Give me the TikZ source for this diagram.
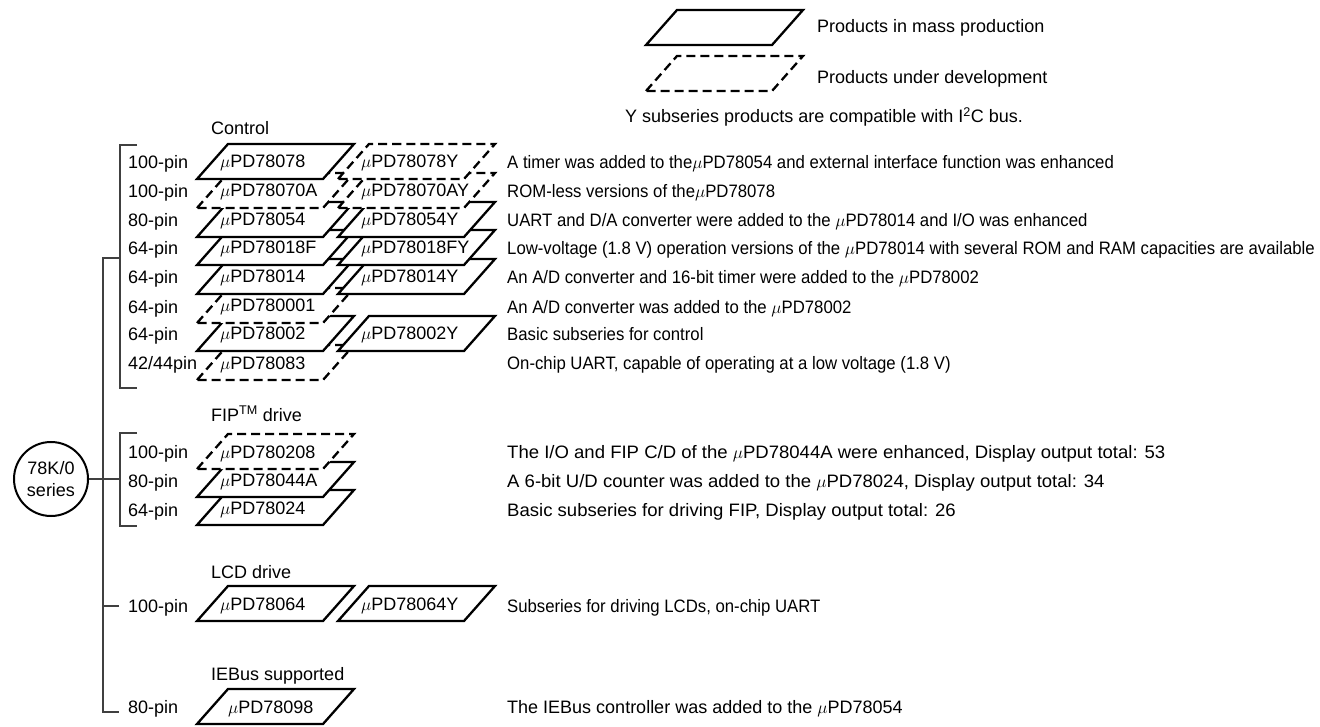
\documentclass[tikz,border=0pt]{standalone}
\usepackage{fontspec}
\setmainfont{Liberation Sans}
\newfontfamily\narrowsans[FakeStretch=0.93]{Liberation Sans}
\newfontfamily\widesans[FakeStretch=1.03]{Liberation Sans}
\usepackage{tikz}
\usetikzlibrary{calc}
\tikzset{
  mass/.style={draw, fill=white, line width=2.3pt, line join=miter},
  dev/.style={mass, dash pattern=on 9pt off 5pt},
  txt/.style={font=\fontsize{18}{22}\selectfont, inner sep=0pt, anchor=base west},
  desc/.style={txt, font=\narrowsans\fontsize{18}{22}\selectfont},
  wdesc/.style={txt, font=\widesans\fontsize{18}{22}\selectfont},
  tree/.style={line width=1.2pt, draw=black!75},
  pics/chip/.style 2 args={code={
      \draw[#1] (0,0) -- ++(31,-35) -- ++(126,0) -- ++(-31,35) -- cycle;
      \node[txt] (-t) at (23,-11) {#2};
  }}
}

\begin{document}
\begin{tikzpicture}[x=1pt, y=-1pt]
\useasboundingbox (0,0) rectangle (1320,727);

% legend
\pic (lgm) at (646,45) {chip={mass}{}};
\pic (lgd) at (646,91) {chip={dev}{}};
\node[txt] (lgm-l) at (817,33) {Products in mass production};
\node[txt] (lgd-l) at (817,84) {Products under development};
\node[txt] (note) at (625,123) {Y subseries products are compatible with I\textsuperscript{2}C bus.};

% control
\node[txt] (ctl) at (211,135) {Control};
\pic (c8) at (197,380) {chip={dev}{$\mu$PD78083}};
\pic (c7) at (197,351) {chip={mass}{$\mu$PD78002}};
\pic (c7y) at (338,351) {chip={mass}{$\mu$PD78002Y}};
\pic (c6) at (197,323) {chip={dev}{$\mu$PD780001}};
\pic (c5) at (197,294) {chip={mass}{$\mu$PD78014}};
\pic (c5y) at (338,294) {chip={mass}{$\mu$PD78014Y}};
\pic (c4) at (197,265) {chip={mass}{$\mu$PD78018F}};
\pic (c4y) at (338,265) {chip={mass}{$\mu$PD78018FY}};
\pic (c3) at (197,237) {chip={mass}{$\mu$PD78054}};
\pic (c3y) at (338,237) {chip={mass}{$\mu$PD78054Y}};
\pic (c2) at (197,208) {chip={dev}{$\mu$PD78070A}};
\pic (c2y) at (338,208) {chip={dev}{$\mu$PD78070AY}};
\pic (c1) at (197,179) {chip={mass}{$\mu$PD78078}};
\pic (c1y) at (338,179) {chip={dev}{$\mu$PD78078Y}};

\node[txt] (p1) at (128,169) {100-pin};
\node[txt] (p2) at (128,198) {100-pin};
\node[txt] (p3) at (128,227) {80-pin};
\node[txt] (p4) at (128,255) {64-pin};
\node[txt] (p5) at (128,284) {64-pin};
\node[txt] (p6) at (128,313) {64-pin};
\node[txt] (p7) at (128,341) {64-pin};
\node[txt] (p8) at (128,370) {42/44pin};

\node[desc] (d1) at (507,169) {A timer was added to the$\mu$PD78054 and external interface function was enhanced};
\node[desc] (d2) at (507,198) {ROM-less versions of the$\mu$PD78078};
\node[desc] (d3) at (507,227) {UART and D/A converter were added to the $\mu$PD78014 and I/O was enhanced};
\node[desc] (d4) at (507,255) {Low-voltage (1.8 V) operation versions of the $\mu$PD78014 with several ROM and RAM capacities are available};
\node[desc] (d5) at (507,284) {An A/D converter and 16-bit timer were added to the $\mu$PD78002};
\node[desc] (d6) at (507,313) {An A/D converter was added to the $\mu$PD78002};
\node[desc] (d7) at (507,341) {Basic subseries for control};
\node[desc] (d8) at (507,370) {On-chip UART, capable of operating at a low voltage (1.8 V)};

% FIP drive
\node[txt] (fip) at (211,421) {FIP\textsuperscript{TM} drive};
\pic (f3) at (197,525) {chip={mass}{$\mu$PD78024}};
\pic (f2) at (197,497) {chip={mass}{$\mu$PD78044A}};
\pic (f1) at (197,469) {chip={dev}{$\mu$PD780208}};
\node[txt] (fp1) at (128,458) {100-pin};
\node[txt] (fp2) at (128,487) {80-pin};
\node[txt] (fp3) at (128,516) {64-pin};
\node[wdesc] (fd1) at (507,458) {The I/O and FIP C/D of the $\mu$PD78044A were enhanced, Display output total: 53};
\node[wdesc] (fd2) at (507,487) {A 6-bit U/D counter was added to the $\mu$PD78024, Display output total: 34};
\node[wdesc] (fd3) at (507,516) {Basic subseries for driving FIP, Display output total: 26};

% LCD drive
\node[txt] (lcd) at (211,578) {LCD drive};
\pic (l1) at (197,621) {chip={mass}{$\mu$PD78064}};
\pic (l1y) at (338,621) {chip={mass}{$\mu$PD78064Y}};
\node[txt] (lp1) at (128,612) {100-pin};
\node[desc] (ld1) at (507,612) {Subseries for driving LCDs, on-chip UART};

% IEBus
\node[txt] (ieb) at (211,680) {IEBus supported};
\pic (i1) at (197,724) {chip={mass}{\hspace{8pt}$\mu$PD78098}};
\node[txt] (ip1) at (128,713) {80-pin};
\node[txt] (id1) at (507,713) {The IEBus controller was added to the $\mu$PD78054};

% series tree
\node[draw, circle, line width=2pt, minimum size=74pt, inner sep=0pt, align=center,
      font=\fontsize{18}{22}\selectfont] (ser) at (51,479) {78K/0\\series};
\coordinate (c-top) at (137,145);
\coordinate (c-bot) at (137,388);
\coordinate (c-join) at (120,258);
\coordinate (m-top) at (103,258);
\coordinate (m-bot) at (119,712);
\coordinate (lcd-tick) at (119,606);
\coordinate (f-top) at (137,433);
\coordinate (f-bot) at (137,526);
\coordinate (f-join) at (120,479);
\draw[tree] (c-top) -| (c-join) |- (c-bot);
\draw[tree] (c-join) -- (m-top) |- (m-bot);
\draw[tree] (lcd-tick) -- (lcd-tick -| m-top);
\draw[tree] (f-top) -| (f-join) |- (f-bot);
\draw[tree] (ser) -- (f-join);
\end{tikzpicture}
\end{document}
